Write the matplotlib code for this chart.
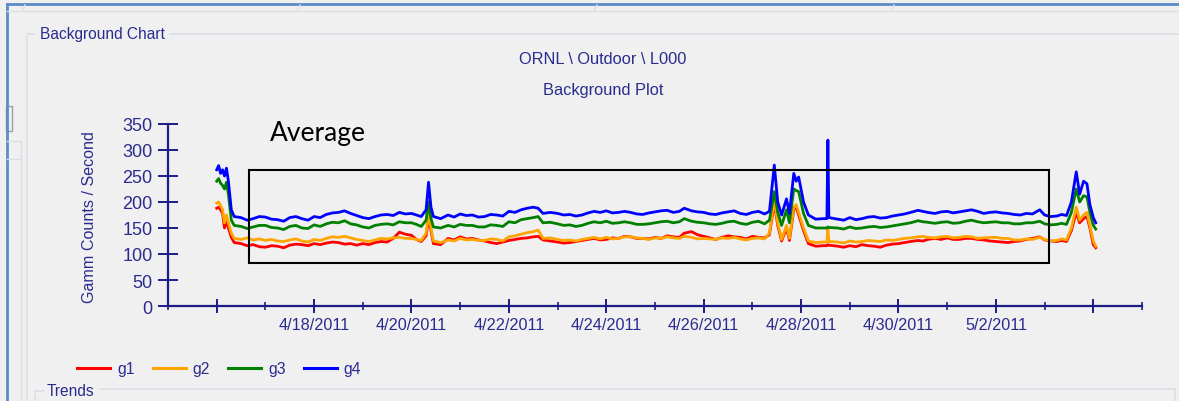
import numpy as np
import pandas as pd
import matplotlib
matplotlib.use('Agg')
import matplotlib.pyplot as plt
from matplotlib.lines import Line2D
from matplotlib.patches import Rectangle
import matplotlib.dates as mdates

# days after 4/16/2011 00:00
days = [0.00, 0.04, 0.08, 0.12, 0.16, 0.20, 0.24, 0.30, 0.36,
        0.5, 0.625, 0.75, 0.875,
        1.0, 1.125, 1.25, 1.375, 1.5, 1.625, 1.75, 1.875,
        2.0, 2.125, 2.25, 2.375, 2.5, 2.625, 2.75, 2.875,
        3.0, 3.125, 3.25, 3.375, 3.5, 3.625, 3.75, 3.875,
        4.0, 4.1, 4.2, 4.3, 4.35, 4.4, 4.45, 4.6, 4.75, 4.875,
        5.0, 5.125, 5.25, 5.375, 5.5, 5.625, 5.75, 5.875,
        6.0, 6.125, 6.25, 6.375, 6.5, 6.6, 6.7, 6.85,
        7.0, 7.125, 7.25, 7.375, 7.5, 7.625, 7.75, 7.875,
        8.0, 8.125, 8.25, 8.375, 8.5, 8.625, 8.75, 8.875,
        9.0, 9.125, 9.25, 9.375, 9.5, 9.6, 9.75, 9.875,
        10.0, 10.125, 10.25, 10.375, 10.5, 10.625, 10.75, 10.875,
        11.0, 11.125, 11.25, 11.35, 11.45, 11.52, 11.6, 11.7, 11.76, 11.85, 11.9, 11.95,
        12.05, 12.15, 12.3, 12.45, 12.53, 12.55, 12.57, 12.75, 12.875,
        13.0, 13.125, 13.25, 13.375, 13.5, 13.625, 13.75, 13.875,
        14.0, 14.125, 14.25, 14.4, 14.5, 14.6, 14.75, 14.875,
        15.0, 15.125, 15.25, 15.375, 15.5, 15.625, 15.75, 15.875,
        16.0, 16.125, 16.25, 16.375, 16.5, 16.625, 16.75, 16.9,
        17.0, 17.125, 17.25, 17.35, 17.45, 17.55, 17.65, 17.72, 17.8, 17.87, 17.93, 18.0, 18.05]

g4 = [262, 270, 255, 262, 250, 265, 240, 185, 172,
      170, 165, 168, 172,
      171, 167, 166, 163, 170, 172, 168, 165,
      172, 170, 176, 179, 180, 183, 178, 174,
      170, 168, 172, 175, 176, 174, 180, 177,
      178, 175, 172, 185, 238, 190, 172, 168, 175, 171,
      177, 174, 175, 171, 172, 176, 175, 173,
      182, 180, 185, 188, 190, 188, 178, 180,
      178, 175, 176, 173, 175, 179, 182, 180,
      183, 179, 180, 182, 180, 177, 176, 179,
      181, 183, 184, 180, 182, 188, 183, 181,
      180, 177, 176, 179, 181, 183, 178, 176,
      180, 182, 177, 182, 271, 200, 175, 206, 178, 255, 240, 248,
      200, 175, 167, 168, 168, 319, 170, 167, 165,
      170, 166, 168, 171, 172, 169, 170, 173,
      175, 177, 180, 184, 182, 180, 178, 181,
      182, 179, 181, 183, 185, 182, 178, 180,
      181, 179, 178, 176, 175, 178, 177, 185,
      175, 172, 173, 176, 174, 200, 258, 215, 240, 235, 195, 170, 160]

g3 = [240, 245, 236, 232, 225, 238, 215, 165, 155,
      153, 149, 152, 155,
      155, 151, 150, 147, 153, 155, 150, 149,
      156, 153, 158, 161, 160, 164, 158, 156,
      152, 150, 155, 157, 158, 156, 162, 160,
      160, 157, 153, 165, 200, 168, 152, 150, 155, 152,
      157, 155, 155, 152, 152, 156, 155, 153,
      162, 160, 166, 168, 170, 172, 160, 161,
      158, 155, 156, 153, 155, 159, 162, 160,
      163, 159, 160, 162, 160, 157, 157, 158,
      160, 162, 163, 160, 162, 168, 163, 161,
      160, 158, 157, 159, 162, 163, 159, 157,
      161, 163, 158, 165, 220, 180, 155, 185, 160, 225, 222, 220,
      178, 155, 150, 150, 150, 152, 151, 150, 148,
      152, 149, 150, 152, 153, 151, 152, 154,
      156, 158, 160, 164, 162, 161, 159, 161,
      162, 159, 160, 163, 165, 162, 160, 161,
      162, 160, 160, 158, 158, 160, 160, 163,
      158, 156, 157, 159, 157, 180, 225, 200, 212, 210, 180, 155, 148]

g2 = [198, 200, 193, 185, 160, 175, 160, 140, 130,
      128, 131, 127, 129,
      126, 128, 125, 124, 127, 129, 125, 123,
      128, 126, 130, 133, 132, 134, 131, 128,
      126, 124, 127, 130, 129, 131, 132, 130,
      130, 128, 126, 140, 177, 150, 125, 122, 127, 125,
      130, 127, 128, 126, 126, 129, 128, 125,
      133, 135, 138, 141, 143, 146, 130, 131,
      128, 126, 127, 125, 128, 130, 132, 129,
      132, 129, 130, 133, 133, 131, 130, 128,
      131, 130, 133, 131, 130, 134, 132, 129,
      130, 129, 128, 131, 130, 132, 129, 127,
      130, 131, 129, 140, 205, 160, 128, 155, 130, 190, 195, 180,
      150, 125, 122, 123, 123, 148, 124, 123, 121,
      125, 123, 124, 126, 125, 124, 127, 126,
      128, 130, 131, 133, 134, 132, 131, 133,
      134, 131, 132, 134, 133, 130, 131, 132,
      132, 130, 130, 127, 127, 129, 128, 132,
      128, 125, 126, 129, 127, 150, 190, 165, 175, 180, 155, 125, 115]

g1 = [188, 190, 185, 178, 150, 165, 150, 132, 122,
      120, 116, 118, 114,
      113, 116, 115, 112, 117, 119, 118, 116,
      120, 118, 121, 123, 122, 119, 120, 117,
      120, 118, 122, 124, 123, 130, 142, 138,
      136, 128, 124, 135, 168, 145, 120, 118, 130, 127,
      133, 129, 130, 127, 125, 122, 120, 123,
      126, 128, 130, 131, 133, 134, 127, 125,
      123, 121, 122, 124, 126, 128, 130, 127,
      128, 131, 130, 134, 133, 130, 130, 129,
      132, 130, 135, 133, 132, 140, 143, 137,
      134, 131, 128, 132, 135, 133, 132, 129,
      134, 132, 131, 137, 198, 155, 125, 150, 126, 185, 190, 175,
      145, 120, 115, 116, 116, 118, 117, 115, 113,
      116, 114, 118, 116, 115, 113, 117, 119,
      120, 122, 124, 126, 125, 128, 130, 128,
      131, 128, 128, 130, 130, 128, 127, 125,
      124, 123, 122, 124, 125, 128, 130, 133,
      127, 125, 124, 126, 124, 145, 180, 160, 168, 172, 150, 118, 112]

series_names = ['g1', 'g2', 'g3', 'g4']
series_colors = ['#ff0000', '#ffa500', '#008000', '#0000ff']
tick_days = ['2011-04-16', '2011-04-18', '2011-04-20', '2011-04-22', '2011-04-24',
             '2011-04-26', '2011-04-28', '2011-04-30', '2011-05-02', '2011-05-04']
tick_labels = ['', '4/18/2011', '4/20/2011', '4/22/2011', '4/24/2011',
               '4/26/2011', '4/28/2011', '4/30/2011', '5/2/2011', '']

W, H = 1179, 402
bg = '#f0f0f0'
navy = '#1c1c86'
txt = '#2b2b8f'
plt.rcParams['font.family'] = ['Liberation Sans', 'DejaVu Sans']

fig = plt.figure(figsize=(W / 100, H / 100), dpi=100, facecolor=bg)


def fx(x):
    return x / W


def fy(y):
    return 1 - y / H


def fline(xs, ys, color, lw):
    fig.add_artist(Line2D([fx(v) for v in xs], [fy(v) for v in ys],
                          color=color, lw=lw, transform=fig.transFigure))


# window decorations
fline([7, 7], [5, 402], '#5a8ccb', 2)
fline([7, 1179], [5, 5], '#5a8ccb', 2)
fline([7, 1179], [12, 12], '#d8e0e6', 1)
for x in [22, 297, 594, 891]:
    fline([x, x + 3], [12, 6], '#d8e0e6', 1)
fline([21, 21], [142, 402], '#d8e0e6', 1)
fline([7, 20], [142, 142], '#d8e0e6', 1)
fline([7, 20], [160, 160], '#d8e0e6', 1)
fline([27, 27], [38, 402], '#d8e0e6', 1.2)
fline([27, 34], [35, 35], '#d8e0e6', 1.2)
fline([170, 1179], [35, 35], '#d8e0e6', 1.2)
fline([1175, 1175], [390, 402], '#d8e0e6', 1.2)
fline([35, 35], [395, 402], '#d8e0e6', 1.2)
fline([35, 44], [392, 392], '#d8e0e6', 1.2)
fline([100, 1175], [390, 390], '#d8e0e6', 1.2)
fig.add_artist(Rectangle((fx(6), fy(132)), fx(6), fy(107) - fy(132),
                         transform=fig.transFigure, fill=False,
                         ec='#a0a0a0', lw=1))
fig.text(fx(40), fy(35), 'Background Chart', fontsize=11.2, color=txt,
         va='center', ha='left')
fig.text(fx(47), fy(392), 'Trends', fontsize=11.2, color=txt,
         va='center', ha='left')

# titles
fig.text(fx(603), fy(60), 'ORNL \\ Outdoor \\ L000', fontsize=11.8, color=txt,
         ha='center', va='center')
fig.text(fx(603), fy(91), 'Background Plot', fontsize=11.8, color=txt,
         ha='center', va='center')
fig.text(fx(90), fy(217), 'Gamm Counts / Second', fontsize=11.6, color=txt,
         rotation=90, ha='center', va='center')

ax = fig.add_axes([fx(168), fy(307), (1142 - 168) / W, 182 / H])
ax.set_facecolor(bg)

t = pd.Timestamp('2011-04-16') + pd.to_timedelta(days, unit='D')
for vals, name, col in zip([g1, g2, g3, g4], series_names, series_colors):
    ax.plot(t, vals, color=col, lw=2.0, label=name)

ax.set_xlim(pd.Timestamp('2011-04-15'), pd.Timestamp('2011-05-05'))
ax.set_ylim(0, 350)
ax.set_yticks(range(0, 351, 50))
ax.set_xticks(pd.to_datetime(tick_days))
ax.set_xticklabels(tick_labels)
ax.xaxis.set_minor_locator(mdates.DayLocator())

for s in ['top', 'right']:
    ax.spines[s].set_visible(False)
for s in ['left', 'bottom']:
    ax.spines[s].set_color(navy)
    ax.spines[s].set_linewidth(1.6)
ax.tick_params(axis='y', direction='inout', length=14, width=1.4, color=navy,
               labelcolor=txt, labelsize=13, pad=4)
ax.tick_params(axis='x', which='major', direction='inout', length=9.5,
               width=1.4, color=navy, labelcolor=txt, labelsize=11.7, pad=3.5)
ax.tick_params(axis='x', which='minor', direction='inout', length=6,
               width=1.2, color=navy)

# annotation box
x0 = mdates.date2num(pd.Timestamp('2011-04-16') + pd.Timedelta(days=0.66))
x1 = mdates.date2num(pd.Timestamp('2011-04-16') + pd.Timedelta(days=17.09))
ax.add_patch(Rectangle((x0, 83), x1 - x0, 261 - 83, fill=False, ec='black',
                       lw=1.5, zorder=5))
fig.text(fx(270), fy(133), 'Average', fontsize=19, color='black',
         family=['Lato', 'DejaVu Sans'], ha='left', va='center')

handles = [Line2D([], [], color=c, lw=2.2) for c in series_colors]
fig.legend(handles, series_names, loc='center left',
           bbox_to_anchor=(fx(77), fy(370)), ncol=4, frameon=False,
           borderpad=0, borderaxespad=0, handlelength=2.1,
           handletextpad=0.45, columnspacing=1.15, fontsize=11.3,
           labelcolor=txt)

fig.savefig('out.png', dpi=100, facecolor=bg)
